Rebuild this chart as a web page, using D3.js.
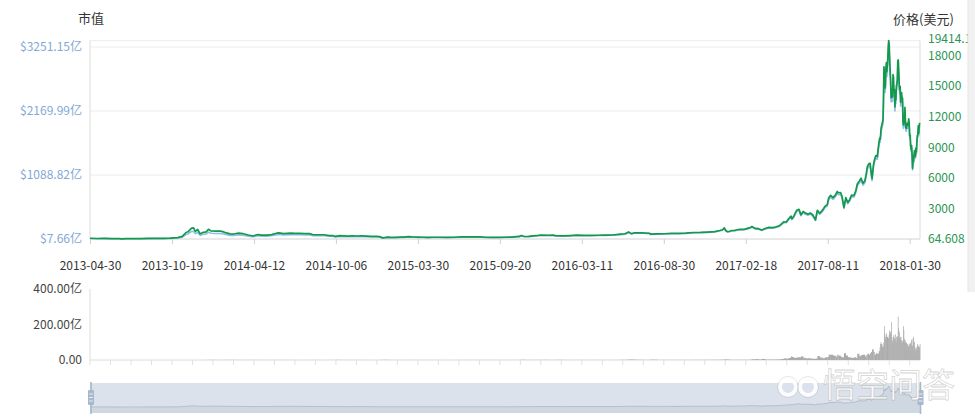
<!DOCTYPE html>
<html><head><meta charset="utf-8">
<script src="https://cdn.jsdelivr.net/npm/d3@7"></script>
<style>
body{margin:0;background:#fff;}
svg{display:block;font-family:"Microsoft YaHei","Noto Sans CJK SC",sans-serif;}
</style>
</head><body>
<svg id="c" width="975" height="419"></svg>
<script>
// ---------- DATA ----------
const dates = [
"2013-04-30","2013-05-15","2013-05-31","2013-06-15","2013-06-30","2013-07-05","2013-07-15","2013-07-31","2013-08-15","2013-08-31","2013-09-15","2013-09-30","2013-10-15","2013-10-31","2013-11-10","2013-11-18","2013-11-22","2013-11-30","2013-12-04","2013-12-08","2013-12-13","2013-12-18","2013-12-23","2013-12-31",
"2014-01-05","2014-01-10","2014-01-20","2014-01-31","2014-02-06","2014-02-10","2014-02-20","2014-02-25","2014-02-28","2014-03-10","2014-03-20","2014-03-31","2014-04-10","2014-04-20","2014-04-30","2014-05-10","2014-05-20","2014-05-31","2014-06-05","2014-06-15","2014-06-30","2014-07-10","2014-07-20","2014-07-31","2014-08-10","2014-08-18","2014-08-31","2014-09-10","2014-09-22","2014-09-30","2014-10-05","2014-10-15","2014-10-31","2014-11-10","2014-11-20","2014-11-30","2014-12-10","2014-12-20","2014-12-31",
"2015-01-07","2015-01-14","2015-01-25","2015-01-31","2015-02-10","2015-02-20","2015-02-28","2015-03-10","2015-03-20","2015-03-31","2015-04-10","2015-04-20","2015-04-30","2015-05-15","2015-05-31","2015-06-15","2015-06-30","2015-07-10","2015-07-20","2015-07-31","2015-08-10","2015-08-20","2015-08-31","2015-09-15","2015-09-30","2015-10-15","2015-10-31","2015-11-04","2015-11-11","2015-11-20","2015-11-30","2015-12-10","2015-12-16","2015-12-31",
"2016-01-10","2016-01-16","2016-01-31","2016-02-15","2016-02-29","2016-03-15","2016-03-31","2016-04-15","2016-04-30","2016-05-15","2016-05-31","2016-06-10","2016-06-17","2016-06-23","2016-06-30","2016-07-15","2016-07-31","2016-08-02","2016-08-15","2016-08-31","2016-09-15","2016-09-30","2016-10-15","2016-10-31","2016-11-15","2016-11-30","2016-12-15","2016-12-25","2016-12-31",
"2017-01-01","2017-01-04","2017-01-07","2017-01-11","2017-01-15","2017-01-20","2017-01-25","2017-01-31",
"2017-02-05","2017-02-10","2017-02-15","2017-02-20","2017-02-25","2017-02-28",
"2017-03-03","2017-03-10","2017-03-17","2017-03-24","2017-03-31",
"2017-04-07","2017-04-15","2017-04-22","2017-04-30",
"2017-05-05","2017-05-10","2017-05-15","2017-05-20","2017-05-25","2017-05-27","2017-05-31",
"2017-06-06","2017-06-11","2017-06-15","2017-06-20","2017-06-25","2017-06-30",
"2017-07-05","2017-07-10","2017-07-16","2017-07-20","2017-07-25","2017-07-31",
"2017-08-05","2017-08-10","2017-08-13","2017-08-17","2017-08-22","2017-08-27","2017-08-31",
"2017-09-02","2017-09-07","2017-09-10","2017-09-14","2017-09-18","2017-09-22","2017-09-26","2017-09-30",
"2017-10-05","2017-10-09","2017-10-12","2017-10-16","2017-10-20","2017-10-24","2017-10-28","2017-10-31",
"2017-11-02","2017-11-05","2017-11-08","2017-11-10","2017-11-12","2017-11-15","2017-11-17","2017-11-20","2017-11-23","2017-11-26","2017-11-28","2017-11-29","2017-11-30",
"2017-12-01","2017-12-03","2017-12-05","2017-12-06","2017-12-07","2017-12-08","2017-12-09","2017-12-10","2017-12-11","2017-12-12","2017-12-13","2017-12-15","2017-12-16","2017-12-17","2017-12-18","2017-12-19","2017-12-20","2017-12-21","2017-12-22","2017-12-23","2017-12-24","2017-12-25","2017-12-26","2017-12-27","2017-12-28","2017-12-29","2017-12-30","2017-12-31",
"2018-01-01","2018-01-02","2018-01-03","2018-01-04","2018-01-05","2018-01-06","2018-01-07","2018-01-08","2018-01-09","2018-01-10","2018-01-11","2018-01-12","2018-01-13","2018-01-14","2018-01-15","2018-01-16","2018-01-17","2018-01-18","2018-01-19","2018-01-20","2018-01-21","2018-01-22","2018-01-23","2018-01-24","2018-01-25","2018-01-26","2018-01-27","2018-01-28","2018-01-29","2018-01-30","2018-01-31",
"2018-02-01","2018-02-02","2018-02-03","2018-02-04","2018-02-05","2018-02-06","2018-02-07","2018-02-08","2018-02-09","2018-02-10","2018-02-11","2018-02-12","2018-02-13","2018-02-14","2018-02-15","2018-02-16","2018-02-17","2018-02-18","2018-02-19","2018-02-20"
];

// price in USD (right axis)
const price = [
139,114,129,100,97,68.4,99,106,99,135,126,124,141,206,320,700,770,1129,1150,800,990,570,680,754,
1014,860,830,830,760,680,560,535,550,630,580,455,360,500,447,450,490,630,660,590,640,620,625,587,590,480,480,480,400,386,320,395,338,365,357,378,352,320,320,
294,178,255,218,220,245,254,290,262,244,236,225,236,237,230,237,263,270,278,284,265,235,230,230,236,255,314,403,310,322,378,415,455,430,
448,387,369,400,437,415,416,430,448,457,531,575,750,590,673,665,624,547,568,575,608,609,640,700,712,742,778,890,964,
998,1154,895,780,822,895,892,970,
1015,995,1010,1080,1155,1190,
1280,1100,1070,935,1080,
1190,1180,1230,1350,
1550,1750,1725,2040,2300,2050,2290,
2870,2960,2440,2750,2590,2480,
2600,2430,1930,2870,2580,2875,
3250,3420,4060,4330,4100,4350,4700,
4580,4600,4230,3150,4100,3630,3900,4340,
4310,4780,5430,5700,6000,5500,5750,6470,
7100,7400,7450,6620,5950,7320,7790,8200,8100,9330,9900,9800,10230,
10900,11290,11700,13750,16870,16100,14800,15060,16730,17280,16400,17600,18900,19414.1,18960,17600,16450,15560,13850,14700,13900,13950,16100,15840,14400,14660,12950,14160,
13660,14980,15200,15600,17460,17530,16480,15170,14600,14970,13400,13980,14360,13770,13820,11490,11190,11470,11660,12900,11600,10930,10870,11360,11260,11170,11440,11790,11310,10110,10220,
9170,8830,9170,8280,6960,7750,7620,8270,8690,8620,8130,8930,8550,9500,10170,10230,11110,10380,11150,11400
];

// market cap in 亿 USD (left axis)
const mcap = [
15.4,12.7,14.4,11.3,11.0,7.76,11.3,12.1,11.4,15.6,14.7,14.5,16.6,24.4,38.1,83.7,92.2,135.5,138.6,96.4,119.5,69.0,82.4,91.6,
123.4,104.9,101.4,101.7,93.3,83.5,68.9,65.9,67.9,78.1,72.1,56.7,45.0,62.7,56.1,56.7,62.0,80.0,84.0,75.3,82.2,79.9,80.8,76.1,76.8,62.7,63.0,63.2,52.9,51.2,42.5,52.6,45.3,49.1,48.1,51.1,47.7,43.5,43.7,
40.2,24.4,35.0,30.0,30.4,33.9,35.2,40.3,36.5,34.1,33.1,31.6,33.2,33.5,32.6,33.7,37.6,38.7,39.9,40.9,38.3,34.0,33.4,33.5,34.5,37.4,46.3,59.5,45.8,47.7,56.2,61.8,67.9,64.4,
67.3,58.2,55.7,60.6,66.4,63.3,63.6,66.0,69.0,70.6,82.3,89.3,116.7,91.9,105.0,104.1,98.1,86.0,89.6,91.0,96.4,96.8,102.0,111.8,113.9,118.9,124.9,143.0,155.0,
160.5,185.7,144.0,125.6,132.4,144.3,143.9,156.6,
163.9,160.8,163.3,174.7,187.0,192.8,
207.4,178.3,173.6,151.8,175.5,
193.5,192.0,200.4,220.1,
252.8,285.6,281.7,333.3,376.1,335.2,374.9,
470.1,485.1,400.2,451.3,425.3,407.5,
427.4,399.7,317.7,472.7,425.2,474.1,
536.3,564.6,670.3,715.3,677.7,719.5,777.9,
758.0,761.8,700.9,522.0,679.8,602.2,647.4,720.4,
715.9,794.4,902.5,947.9,998.4,915.8,958.0,1078.5,
1183.6,1234.3,1242.7,1104.9,993.1,1222.4,1300.9,1370.2,1354.3,1560.0,1656.3,1639.5,1711.5,
1824.7,1889.9,1958.6,2301.8,2825.7,2696.8,2479.0,2522.6,2802.3,2896.1,2748.6,2949.8,3167.6,3251.15,3177.7,2949.8,2757.0,2609.4,2322.6,2465.2,2331.0,2339.4,2700.0,2656.4,2414.9,2458.5,2171.7,2374.6,
2292.1,2513.6,2550.6,2617.7,2931.5,2943.3,2767.0,2547.0,2452.8,2515.0,2251.2,2348.6,2412.5,2314.7,2323.1,1931.5,1881.0,1928.1,1961.2,2169.8,1951.1,1838.4,1828.3,1911.9,1895.1,1879.9,1925.4,1984.3,1904.6,1702.5,1721.0,
1544.2,1487.0,1545.1,1395.2,1172.8,1305.9,1284.0,1393.5,1465.1,1453.3,1370.7,1505.6,1441.5,1601.7,1715.7,1725.8,1874.3,1751.1,1881.0,1923.2
];

// 24h volume in 亿 USD (bottom chart)
const volume = [
0,0,0,0,0,0,0,0,0,0,0,0,0,0,0,0,0,0,0,0,0,0,0,0.5,
0.9,0.6,0.4,0.3,0.6,0.8,0.7,0.9,0.5,0.4,0.3,0.4,0.6,0.3,0.2,0.2,0.2,0.4,0.5,0.2,0.2,0.2,0.1,0.2,0.2,0.4,0.1,0.2,0.3,0.3,0.8,0.3,0.2,0.3,0.2,0.2,0.2,0.1,0.1,
0.4,1.0,0.4,0.3,0.2,0.2,0.2,0.4,0.3,0.2,0.2,0.2,0.2,0.1,0.1,0.2,0.3,0.5,0.3,0.3,0.2,0.5,0.2,0.2,0.2,0.3,0.6,1.5,0.7,0.4,0.6,0.6,0.9,0.5,
0.5,0.9,0.4,0.5,0.5,0.4,0.5,0.4,0.4,0.5,1.1,1.3,3.0,2.5,1.5,0.8,0.9,2.0,0.8,0.7,0.7,0.6,0.7,1.0,1.0,1.1,1.2,1.5,2.0,
1.5,3.5,3.0,2.5,1.2,1.0,1.0,1.2,
1.2,1.5,1.2,1.2,2.0,2.0,
4,5,3,6,2.5,
3,2.5,3,4,
6,9,8,12,20,17,12,
15,15,20,12,9,10,
8,7,8,22,14,10,
15,17,30,30,25,20,30,
25,18,15,38,25,16,14,12,
15,12,35,22,28,30,20,28,
35,30,40,45,60,45,30,38,35,50,70,90,100,
90,75,78,100,190,150,120,130,140,150,130,120,125,140,165,150,160,150,213,130,110,95,130,140,125,120,145,110,
100,130,135,130,244,180,120,160,120,130,130,110,95,105,110,190,170,120,100,110,95,100,95,85,90,80,75,90,80,95,90,
100,115,80,80,120,130,110,100,75,65,50,70,60,80,90,75,80,75,70,90
];

const xTickLabels = ["2013-04-30","2013-10-19","2014-04-12","2014-10-06","2015-03-30","2015-09-20","2016-03-11","2016-08-30","2017-02-18","2017-08-11","2018-01-30"];
const mcapTicks = [7.66, 1088.82, 2169.99, 3251.15];
const priceTicks = [64.608, 3000, 6000, 9000, 12000, 15000, 18000, 19414.1];
const volTicks = [0, 200, 400];
const titles = {left: "市值", right: "价格(美元)"};
const watermark = "悟空问答";

// ---------- LAYOUT ----------
const svg = d3.select("#c");
const L = 90, R = 920;
const mainTop = 40.7, mainTopL = 47, mainBot = 239;
const volTop = 289, volBot = 360;
const labelStep = 81.97;

const parse = d3.timeParse("%Y-%m-%d");
const fmt = d3.timeFormat("%Y-%m-%d");
const n = d3.min([dates.length, price.length, mcap.length, volume.length]);
const data = d3.range(n).map(i => ({date: parse(dates[i]), price: price[i], mcap: mcap[i], vol: volume[i]}));
const labelDates = xTickLabels.map(parse);

// category-like axis: labels equally spaced
const x = d3.scaleTime().domain(labelDates).range(labelDates.map((d, i) => L + i * labelStep));
const yP = d3.scaleLinear().domain([64.608, 19414.1]).range([mainBot, mainTop]);
const yM = d3.scaleLinear().domain([7.66, 3251.15]).range([mainBot, mainTopL]);
const yV = d3.scaleLinear().domain([0, 400]).range([volBot, volTop]);

const gridC = "#ececec", axisC = "#dcdcdc";

// grid lines (main)
svg.append("g").selectAll("line").data(mcapTicks).join("line")
  .attr("x1", L).attr("x2", R).attr("y1", d => yM(d)).attr("y2", d => yM(d))
  .attr("stroke", gridC).attr("stroke-width", 1);
svg.append("line").attr("x1", L).attr("x2", R).attr("y1", yP(19414.1)).attr("y2", yP(19414.1))
  .attr("stroke", gridC);
// axis lines
svg.append("line").attr("x1", L).attr("x2", L).attr("y1", mainTop).attr("y2", mainBot).attr("stroke", axisC);
svg.append("line").attr("x1", R).attr("x2", R).attr("y1", mainTop).attr("y2", mainBot).attr("stroke", axisC);
svg.append("line").attr("x1", L).attr("x2", R).attr("y1", mainBot).attr("y2", mainBot).attr("stroke", axisC);

// x axis labels
const xAxis = d3.axisBottom(x).tickValues(labelDates).tickFormat(fmt).tickSize(5).tickPadding(17);
const gx = svg.append("g").attr("transform", `translate(0,${mainBot})`).call(xAxis);
gx.select(".domain").remove();
gx.selectAll(".tick line").attr("stroke", "#cfcfcf");
gx.selectAll(".tick text").attr("fill", "#333").attr("font-size", 12)
  .attr("font-family", '"Microsoft YaHei","Noto Sans CJK SC",sans-serif');

// left axis labels (market cap)
svg.append("g").selectAll("text").data(mcapTicks).join("text")
  .attr("x", 82).attr("y", d => yM(d)).attr("dy", "0.35em").attr("text-anchor", "end")
  .attr("font-size", 12).attr("fill", "#82a8d6")
  .text(d => "$" + d3.format(".2f")(d) + "亿");

// right axis labels (price); the max label sits a touch higher like the reference
svg.append("g").selectAll("text").data(priceTicks).join("text")
  .attr("x", 928).attr("y", d => yP(d) + (d === 19414.1 ? -2 : d === 18000 ? 1 : 0))
  .attr("dy", "0.35em").attr("text-anchor", "start")
  .attr("font-size", 12).attr("fill", "#2a9553")
  .text(d => String(d));

// titles
svg.append("text").attr("x", 78).attr("y", 23).attr("font-size", 13).attr("fill", "#333").text(titles.left);
svg.append("text").attr("x", 893).attr("y", 23.5).attr("font-size", 13).attr("fill", "#333").text(titles.right);

// lines
const lineM = d3.line().x(d => x(d.date)).y(d => yM(d.mcap));
const lineP = d3.line().x(d => x(d.date)).y(d => yP(d.price));
svg.append("path").datum(data).attr("d", lineM).attr("fill", "none")
  .attr("stroke", "#8fbde6").attr("stroke-width", 1.6).attr("stroke-linejoin", "round");
svg.append("path").datum(data).attr("d", lineP).attr("fill", "none")
  .attr("stroke", "#14994c").attr("stroke-width", 1.7).attr("stroke-linejoin", "round");

// ---------- volume chart ----------
svg.append("line").attr("x1", L).attr("x2", L).attr("y1", volTop).attr("y2", volBot).attr("stroke", axisC);
svg.append("line").attr("x1", L).attr("x2", R).attr("y1", volBot).attr("y2", volBot).attr("stroke", axisC);
// sub ticks (4 per label interval)
const subTicks = [];
for (let i = 0; i < labelDates.length - 1; i++) {
  const a = x(labelDates[i]), b = x(labelDates[i + 1]);
  for (let k = 0; k < 4; k++) subTicks.push(a + (b - a) * k / 4);
}
subTicks.push(x(labelDates[labelDates.length - 1]));
svg.append("g").selectAll("line").data(subTicks).join("line")
  .attr("x1", d => d).attr("x2", d => d).attr("y1", volBot).attr("y2", volBot + 5)
  .attr("stroke", "#e0e0e0");

svg.append("g").selectAll("rect").data(data).join("rect")
  .attr("x", d => x(d.date))
  .attr("width", (d, i) => {
    const nx = i < n - 1 ? x(data[i + 1].date) : x(d.date) + (x(d.date) - x(data[i - 1].date));
    return Math.max(0.6, nx - x(d.date) + 0.25);
  })
  .attr("y", d => yV(d.vol)).attr("height", d => volBot - yV(d.vol))
  .attr("fill", "#aaaaaa");

svg.append("g").selectAll("text").data(volTicks).join("text")
  .attr("x", 82).attr("y", d => yV(d)).attr("dy", "0.35em").attr("text-anchor", "end")
  .attr("font-size", 12).attr("fill", "#444")
  .text(d => d === 0 ? "0.00" : d3.format(".2f")(d) + "亿");

// ---------- data zoom slider ----------
const sTop = 383, sBot = 413;
svg.append("rect").attr("x", L).attr("y", sTop).attr("width", R + 1 - L).attr("height", sBot - sTop)
  .attr("fill", "rgba(167,183,204,0.4)");
const yS = d3.scaleLinear().domain([0, 19414.1]).range([407, 386]);
const areaS = d3.area().x(d => x(d.date)).y0(sBot).y1(d => yS(d.price));
const lineS = d3.line().x(d => x(d.date)).y(d => yS(d.price));
svg.append("path").datum(data).attr("d", areaS).attr("fill", "rgba(47,69,84,0.07)");
svg.append("path").datum(data).attr("d", lineS).attr("fill", "none")
  .attr("stroke", "rgba(47,69,84,0.18)").attr("stroke-width", 1);
[L + 1, R + 0.5].forEach(hx => {
  const g = svg.append("g");
  g.append("line").attr("x1", hx).attr("x2", hx).attr("y1", sTop - 1).attr("y2", sBot + 1)
    .attr("stroke", "#a7b7cc").attr("stroke-width", 1.6);
  g.append("rect").attr("x", hx - 3).attr("y", 390).attr("width", 6).attr("height", 15)
    .attr("rx", 1).attr("fill", "#a7b7cc");
  [394, 397.5, 401].forEach(ly => g.append("line").attr("x1", hx - 1.8).attr("x2", hx + 1.8)
    .attr("y1", ly).attr("y2", ly).attr("stroke", "#fff").attr("stroke-width", 0.8));
});

// right scrollbar strip
svg.append("rect").attr("x", 968).attr("y", 0).attr("width", 7).attr("height", 292).attr("fill", "#f1f1f1");
svg.append("line").attr("x1", 968).attr("x2", 968).attr("y1", 0).attr("y2", 292).attr("stroke", "#e4e4e4");

// watermark
const wm = svg.append("g").attr("opacity", 0.9);
[[788, 387], [808, 387]].forEach(c => wm.append("circle").attr("cx", c[0]).attr("cy", c[1]).attr("r", 8)
  .attr("fill", "none").attr("stroke", "#fff").attr("stroke-width", 4));
[[788, 387], [808, 387]].forEach(c => wm.append("circle").attr("cx", c[0]).attr("cy", c[1]).attr("r", 10.5)
  .attr("fill", "none").attr("stroke", "rgba(160,160,160,0.35)").attr("stroke-width", 0.8));
wm.append("text").attr("x", 823).attr("y", 397).attr("font-size", 33).attr("fill", "#fff")
  .attr("stroke", "rgba(150,150,150,0.45)").attr("stroke-width", 0.8).text(watermark);
</script>
</body></html>
